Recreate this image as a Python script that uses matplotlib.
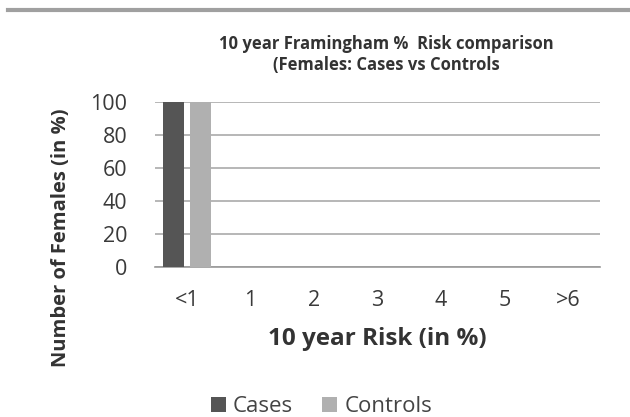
import numpy as np
import matplotlib
matplotlib.use("Agg")
import matplotlib.pyplot as plt
from matplotlib.lines import Line2D

categories = ["<1", "1", "2", "3", "4", "5", ">6"]
cases = [100, 0, 0, 0, 0, 0, 0]
controls = [100, 0, 0, 0, 0, 0, 0]
yticks = [0, 20, 40, 60, 80, 100]

plt.rcParams['font.family'] = ['Open Sans', 'DejaVu Sans']

fig = plt.figure(figsize=(6.30, 4.17), dpi=100)
ax = fig.add_axes([0.246, 0.360, 0.706, 0.395])

x = np.arange(len(categories))
w = 0.33
ax.bar(x - 0.21, cases, width=w, color="#555555", label="Cases", zorder=3)
ax.bar(x + 0.21, controls, width=w, color="#b0b0b0", label="Controls", zorder=3)

ax.set_xlim(-0.5, len(categories) - 0.5)
ax.set_ylim(0, 100)
ax.set_yticks(yticks)
ax.set_xticks(x)
ax.set_xticklabels(categories)
ax.tick_params(axis="both", length=0, labelsize=15.5, colors="#3a3a3a")
ax.tick_params(axis="x", pad=17)
ax.tick_params(axis="y", pad=20)
ax.yaxis.grid(True, color="#aaaaaa", lw=1.2, zorder=0)
for s in ["top", "right", "left"]:
    ax.spines[s].set_visible(False)
ax.spines["bottom"].set_color("#999999")
ax.spines["bottom"].set_linewidth(1.2)

ax.set_xlabel("10 year Risk (in %)", fontsize=17.5, fontweight="bold", color="#333333")
ax.xaxis.set_label_coords(0.5, -0.365)
ax.set_ylabel("Number of Females (in %)", fontsize=14.5, fontweight="bold", color="#333333")
ax.yaxis.set_label_coords(-0.189, 0.176)

fig.text(0.613, 0.883, "10 year Framingham %  Risk comparison", ha="center", fontsize=12,
         fontweight="bold", color="#333333")
fig.text(0.613, 0.833, "(Females: Cases vs Controls", ha="center", fontsize=12,
         fontweight="bold", color="#333333")

fig.legend(loc="center", bbox_to_anchor=(0.51, 0.025), ncol=2, frameon=False, fontsize=16,
           handlelength=0.7, handleheight=0.7, handletextpad=0.3, columnspacing=1.3,
           labelcolor="#444444")

# gray line at the top of the image
fig.add_artist(Line2D([0.012, 1.0], [0.977, 0.977], color="#a0a0a0", lw=3, transform=fig.transFigure))

fig.savefig("out.png", dpi=100)
